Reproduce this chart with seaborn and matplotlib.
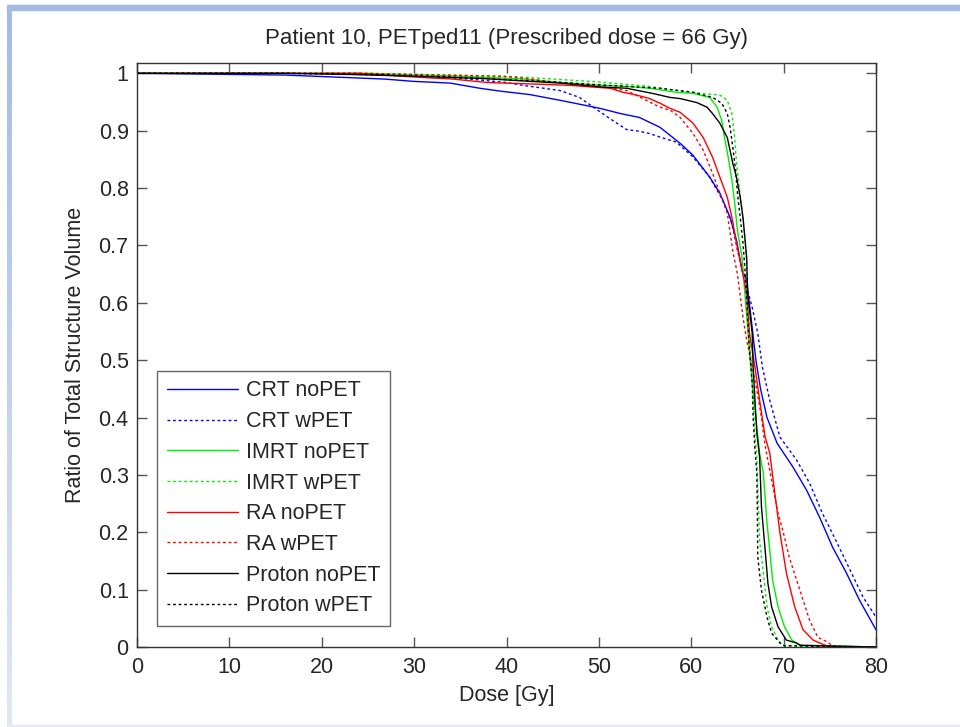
import numpy as np
import pandas as pd
import matplotlib
matplotlib.use("Agg")
import matplotlib.pyplot as plt
from matplotlib.patches import Rectangle
import seaborn as sns

# ---- Dose-volume histogram data (dose in Gy, fraction of structure volume) ----
crt_no_dose = [0, 16.0, 26.8, 29.9, 33.9, 37.1, 39.3, 42.5, 45.8, 50.1, 52.3, 54.4, 56.6, 58.8,
               60.2, 62.0, 63.1, 64.2, 64.9, 65.5, 66.0, 66.5, 67.0, 67.5, 68.2, 69.3, 71.0,
               72.5, 73.9, 75.3, 76.8, 78.2, 80.0]
crt_no_vol = [1.0, 0.997, 0.99, 0.986, 0.983, 0.974, 0.969, 0.963, 0.953, 0.939, 0.930, 0.923,
              0.906, 0.878, 0.857, 0.819, 0.791, 0.749, 0.709, 0.657, 0.64, 0.57, 0.50, 0.45,
              0.40, 0.355, 0.314, 0.273, 0.226, 0.174, 0.129, 0.082, 0.03]

crt_w_dose = [0, 23.0, 30.0, 36.0, 40.0, 41.8, 45.8, 47.9, 49.4, 51.2, 53.0, 54.4, 55.5, 56.6,
              58.4, 60.2, 62.0, 63.4, 64.4, 65.0, 65.5, 66.6, 67.2, 67.7, 68.5, 69.6, 71.4,
              72.8, 74.2, 75.8, 77.2, 78.6, 80.0]
crt_w_vol = [1.0, 1.0, 0.997, 0.99, 0.984, 0.979, 0.970, 0.958, 0.941, 0.921, 0.902, 0.899,
             0.895, 0.889, 0.88, 0.854, 0.819, 0.779, 0.739, 0.692, 0.657, 0.592, 0.547, 0.488,
             0.43, 0.366, 0.326, 0.286, 0.233, 0.181, 0.134, 0.087, 0.052]

imrt_no_dose = [0, 25.0, 35.0, 42.0, 45.8, 50.4, 53.0, 55.5, 58.4, 60.2, 62.0, 62.8, 63.3, 63.6,
                64.0, 64.4, 64.7, 65.0, 65.5, 66.1, 66.6, 67.4, 67.8, 68.2, 68.5, 68.8, 69.4,
                70.1, 70.9, 71.8, 80.0]
imrt_no_vol = [1.0, 1.0, 0.995, 0.99, 0.984, 0.979, 0.977, 0.974, 0.967, 0.965, 0.958, 0.941,
               0.918, 0.888, 0.854, 0.814, 0.774, 0.726, 0.679, 0.557, 0.46, 0.338, 0.303,
               0.216, 0.169, 0.117, 0.07, 0.035, 0.012, 0.003, 0.0]

imrt_w_dose = [0, 25.0, 40.0, 50.0, 55.0, 59.8, 63.1, 63.9, 64.4, 64.7, 64.9, 65.2, 65.5, 65.8,
               66.0, 66.3, 66.6, 66.9, 67.1, 67.2, 67.4, 67.8, 68.2, 68.7, 69.4, 69.9, 80.0]
imrt_w_vol = [1.0, 1.0, 0.995, 0.985, 0.978, 0.967, 0.962, 0.953, 0.930, 0.888, 0.843, 0.801,
              0.761, 0.714, 0.669, 0.55, 0.46, 0.37, 0.331, 0.274, 0.186, 0.129, 0.07, 0.035,
              0.012, 0.003, 0.0]

ra_no_dose = [0, 24.0, 30.6, 34.2, 37.9, 43.6, 46.9, 49.4, 51.2, 52.6, 54.1, 55.5, 56.6, 57.7,
              58.8, 60.2, 61.3, 62.3, 63.1, 63.9, 64.4, 64.9, 65.5, 66.0, 66.3, 66.9, 67.4,
              68.0, 68.5, 69.0, 69.6, 70.3, 71.2, 72.1, 73.2, 74.2, 75.0, 80.0]
ra_no_vol = [1.0, 1.0, 0.993, 0.99, 0.984, 0.981, 0.979, 0.976, 0.974, 0.967, 0.962, 0.956,
             0.948, 0.939, 0.932, 0.913, 0.888, 0.854, 0.819, 0.784, 0.749, 0.704, 0.657,
             0.617, 0.547, 0.488, 0.43, 0.366, 0.338, 0.274, 0.199, 0.129, 0.07, 0.03, 0.012,
             0.005, 0.0, 0.0]

ra_w_dose = [0, 24.0, 39.0, 41.1, 45.0, 49.0, 53.0, 56.6, 57.7, 58.8, 60.2, 61.3, 62.3, 63.1,
             63.9, 64.5, 65.0, 65.6, 66.0, 66.6, 67.1, 67.6, 68.0, 68.9, 69.4, 69.9, 70.6,
             71.4, 72.1, 72.8, 73.7, 74.7, 75.5, 80.0]
ra_w_vol = [1.0, 1.0, 0.995, 0.993, 0.985, 0.98, 0.970, 0.941, 0.936, 0.923, 0.895, 0.866,
            0.826, 0.791, 0.756, 0.69, 0.65, 0.575, 0.535, 0.488, 0.448, 0.40, 0.35, 0.274,
            0.233, 0.204, 0.157, 0.117, 0.082, 0.047, 0.017, 0.009, 0.0, 0.0]

proton_no_dose = [0, 16.0, 23.0, 30.0, 37.4, 44.7, 45.8, 50.4, 53.0, 55.8, 57.7, 58.8, 60.6,
                  61.7, 62.3, 63.1, 63.9, 64.2, 64.5, 64.9, 65.3, 65.6, 65.8, 66.0, 66.1, 66.6,
                  66.7, 66.9, 67.1, 67.4, 67.6, 68.0, 68.3, 68.7, 69.4, 70.3, 71.4, 71.8, 80.0]
proton_no_vol = [1.0, 1.0, 0.998, 0.995, 0.991, 0.984, 0.983, 0.976, 0.974, 0.965, 0.958,
                 0.956, 0.949, 0.941, 0.930, 0.913, 0.888, 0.866, 0.843, 0.819, 0.784, 0.749,
                 0.714, 0.679, 0.617, 0.547, 0.488, 0.43, 0.373, 0.331, 0.244, 0.169, 0.111,
                 0.07, 0.035, 0.012, 0.007, 0.003, 0.0]

proton_w_dose = [0, 16.0, 25.0, 35.0, 45.0, 50.0, 56.6, 60.2, 62.3, 63.3, 63.9, 64.2, 64.5,
                 64.8, 65.0, 65.3, 65.6, 65.8, 66.1, 66.3, 66.6, 66.7, 66.9, 67.1, 67.15, 67.2,
                 67.6, 68.2, 68.7, 69.6, 70.1, 80.0]
proton_w_vol = [1.0, 1.0, 0.998, 0.993, 0.985, 0.98, 0.974, 0.967, 0.958, 0.948, 0.930, 0.906,
                0.871, 0.831, 0.791, 0.749, 0.704, 0.662, 0.575, 0.517, 0.46, 0.40, 0.343,
                0.303, 0.244, 0.157, 0.099, 0.052, 0.024, 0.007, 0.002, 0.0]

series_labels = ["CRT noPET", "CRT wPET", "IMRT noPET", "IMRT wPET",
                 "RA noPET", "RA wPET", "Proton noPET", "Proton wPET"]
series_dose = [crt_no_dose, crt_w_dose, imrt_no_dose, imrt_w_dose,
               ra_no_dose, ra_w_dose, proton_no_dose, proton_w_dose]
series_vol = [crt_no_vol, crt_w_vol, imrt_no_vol, imrt_w_vol,
              ra_no_vol, ra_w_vol, proton_no_vol, proton_w_vol]

x_ticks = [0, 10, 20, 30, 40, 50, 60, 70, 80]
y_ticks = [0, 0.1, 0.2, 0.3, 0.4, 0.5, 0.6, 0.7, 0.8, 0.9, 1.0]
y_tick_labels = ["0", "0.1", "0.2", "0.3", "0.4", "0.5", "0.6", "0.7", "0.8", "0.9", "1"]

title_text = "Patient 10, PETped11 (Prescribed dose = 66 Gy)"
x_label = "Dose [Gy]"
y_label = "Ratio of Total Structure Volume"

# ---- styling ----
sns.set_style("ticks")
plt.rcParams["font.family"] = ["Liberation Sans", "DejaVu Sans"]
plt.rcParams["xtick.direction"] = "in"
plt.rcParams["ytick.direction"] = "in"

FS = 15.5
colors = ["#0000ff", "#0000ff", "#00ee00", "#00ee00",
          "#ff0000", "#ff0000", "#000000", "#000000"]
styles = ["-", (0, (2, 2)), "-", (0, (2, 2)), "-", (0, (2, 2)), "-", (0, (2, 2))]

fig = plt.figure(figsize=(9.6, 7.27), dpi=100)

# light blue window frame around the figure
frame_col = "#a3bbe3"
fig.patches.append(Rectangle((7 / 960, 1 - 10 / 727), 1 - 7 / 960, 5 / 727,
                             transform=fig.transFigure, color=frame_col, zorder=0))
grad = np.linspace(0, 1, 256).reshape(-1, 1)
gax = fig.add_axes([7 / 960, 0, 5 / 960, 1 - 5 / 727])
top_rgb = np.array([0xa3, 0xbb, 0xe3]) / 255
bot_rgb = np.array([0xe0, 0xe7, 0xf4]) / 255
img = top_rgb[None, None, :] * (1 - grad[:, :, None]) + bot_rgb[None, None, :] * grad[:, :, None]
gax.imshow(img, aspect="auto", extent=[0, 1, 0, 1], origin="upper")
gax.set_axis_off()
fig.patches.append(Rectangle((7 / 960, 0), 1 - 7 / 960, 2 / 727,
                             transform=fig.transFigure, color="#e8e8f5", zorder=0))

ax = fig.add_axes([137 / 960, 1 - 647 / 727, (876 - 137) / 960, (647 - 63) / 727])

for lab, xs, ys, c, ls in zip(series_labels, series_dose, series_vol, colors, styles):
    df = pd.DataFrame({"dose": xs, "vol": ys})
    sns.lineplot(data=df, x="dose", y="vol", ax=ax, color=c, linestyle=ls,
                 linewidth=1.0, estimator=None, sort=False, label=lab)

ax.set_xlim(0, 80)
ax.set_ylim(0, 1.018)
ax.set_xticks(x_ticks)
ax.set_xticklabels([str(t) for t in x_ticks])
ax.set_yticks(y_ticks)
ax.set_yticklabels(y_tick_labels)
ax.tick_params(axis="both", which="both", direction="in", length=7, width=1,
               color="#555555", labelsize=FS, top=True, right=True)
ax.tick_params(axis="x", pad=7)
ax.tick_params(axis="y", pad=6)
for sp in ax.spines.values():
    sp.set_visible(True)
    sp.set_color("#333333")
    sp.set_linewidth(1.0)

ax.set_title(title_text, fontsize=16, pad=14)
ax.set_xlabel(x_label, fontsize=FS, labelpad=5)
ax.set_ylabel(y_label, fontsize=FS, labelpad=9)

leg = ax.legend(loc="lower left", bbox_to_anchor=(0.027, 0.036), borderaxespad=0,
                fontsize=FS, fancybox=False, framealpha=1, edgecolor="#666666",
                handlelength=3.3, handletextpad=0.37, labelspacing=0.45, borderpad=0.45)
leg.get_frame().set_linewidth(1.0)

fig.savefig("out.png", dpi=100)
